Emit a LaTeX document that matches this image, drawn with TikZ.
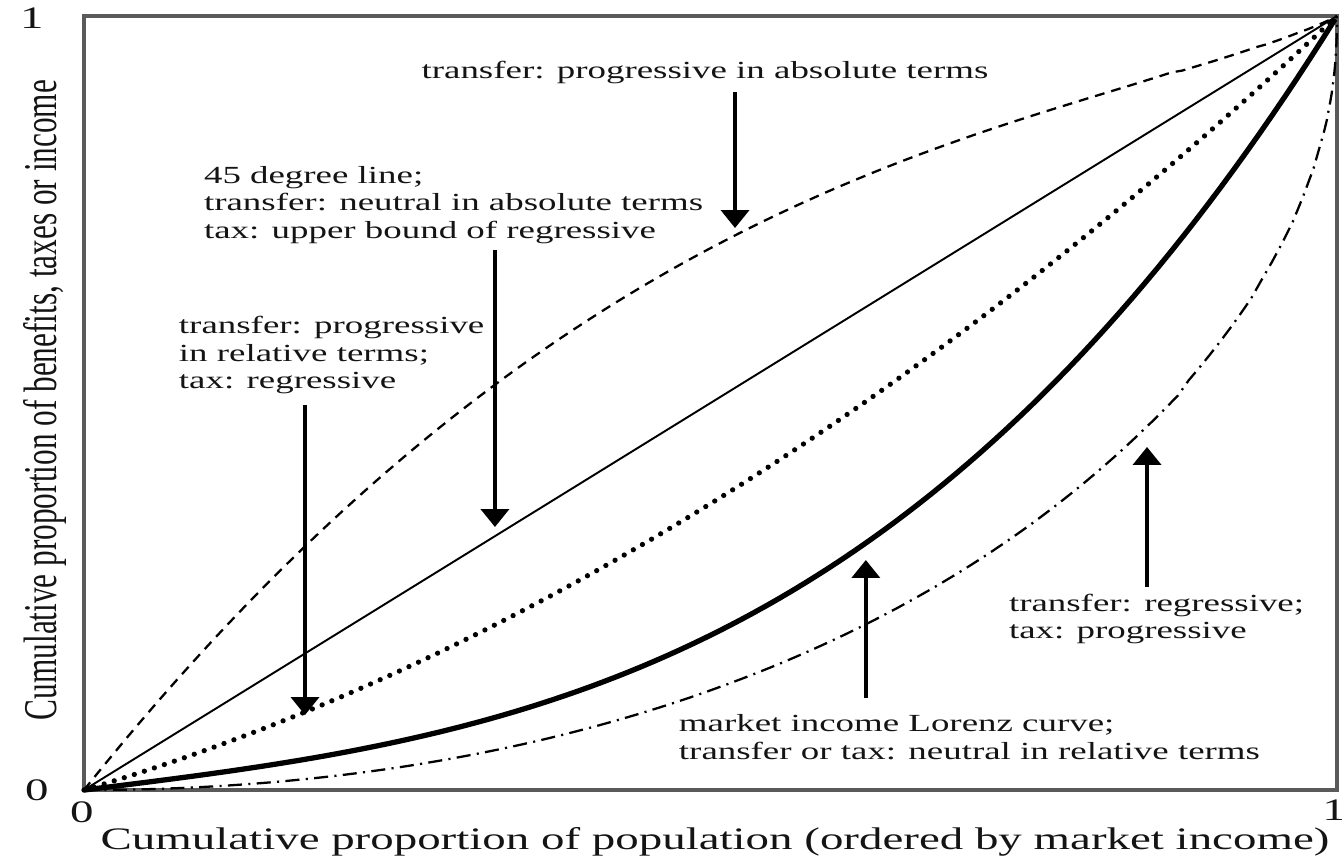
\documentclass[tikz,border=0pt]{standalone}
\usepackage{fontspec}
\setmainfont{Liberation Serif}
\usetikzlibrary{arrows.meta,positioning}
\definecolor{inkGray}{RGB}{20,20,20}
\definecolor{frameGray}{RGB}{90,90,90}
\tikzset{
  note/.style={font=\fontsize{7}{7.9}\selectfont, text=inkGray, align=left, inner sep=0pt, xscale=1.5},
  axislabel/.style={font=\fontsize{8.9}{10}\selectfont, text=inkGray, inner sep=0pt},
  pointer/.style={-{Triangle[length=1.8mm, width=2.8mm]}, line width=1.1pt},
  diag/.style={line width=0.55pt},
  lorenz/.style={line width=1.5pt},
  absprog/.style={line width=0.65pt, dash pattern=on 2.8pt off 2pt},
  relprog/.style={line width=1.5pt, line cap=round, dash pattern=on 0pt off 3pt},
  regr/.style={line width=0.65pt, dash pattern=on 4pt off 1.8pt on 0.6pt off 1.8pt}
}
\begin{document}
\begin{tikzpicture}[x=12.53cm, y=7.74cm]
\useasboundingbox (-0.067,-0.0891) rectangle (1.004,1.0207);
% frame
\draw[frameGray, line width=1.1pt] (0,0) rectangle (1,1);
% curves
\draw[diag] (0,0) -- (1,1);
\draw[absprog] plot[domain=0:0.995, samples=120] (\x,{\x+1.02*\x*(1-\x)^1.35}) -- (1,1);
\draw[relprog] plot[domain=0:1, samples=100] (\x,{0.48*\x+0.52*\x*\x});
\draw[lorenz] plot[domain=0:1, samples=100] (\x,{0.2*\x+0.8*\x*\x*\x});
\draw[regr] plot[domain=0:0.99, samples=120] (\x,{\x*(1-(1-\x)^0.43)})
  -- plot[domain=0.99:0.9999, samples=20] (\x,{\x*(1-(1-\x)^0.43)}) -- (1,1);
% tick labels and axis titles
\node[axislabel, xscale=1.5] (ytop) at (-0.0415,0.9974) {1};
\node[axislabel, xscale=1.5] (yzero) at (-0.0375,0) {0};
\node[axislabel, xscale=1.5] (xzero) at (-0.0016,-0.0284) {0};
\node[axislabel, xscale=1.5] (xone) at (0.9976,-0.0258) {1};
\node[axislabel, xscale=1.5] (xtitle) at (0.5036,-0.0672) {Cumulative proportion of population (ordered by market income)};
\node[axislabel, rotate=90, yscale=1.5] (ytitle) at (-0.0311,0.5039) {Cumulative proportion of benefits, taxes or income};
% notes
\node[note] (absnote) at (0.4956,0.9276) {transfer: progressive in absolute terms};
\node[note, anchor=west] (neutralnote) at (0.095,0.7558) {45 degree line;\\transfer: neutral in absolute terms\\tax: upper bound of regressive};
\node[note, anchor=west] (relnote) at (0.075,0.562) {transfer: progressive\\in relative terms;\\tax: regressive};
\node[note, anchor=west] (lorenznote) at (0.474,0.0685) {market income Lorenz curve;\\transfer or tax: neutral in relative terms};
\node[note, anchor=west] (regnote) at (0.7374,0.2209) {transfer: regressive;\\tax: progressive};
% arrows
\coordinate (absfrom) at (0.5196,0.9018);
\coordinate (absto) at (0.5196,0.7261);
\coordinate (neutralfrom) at (0.328,0.6977);
\coordinate (neutralto) at (0.328,0.3398);
\coordinate (relfrom) at (0.1764,0.4974);
\coordinate (relto) at (0.1764,0.0969);
\coordinate (lorenzfrom) at (0.624,0.1189);
\coordinate (lorenzto) at (0.624,0.2972);
\coordinate (regfrom) at (0.8484,0.2623);
\coordinate (regto) at (0.8484,0.4432);
\draw[pointer] (absfrom) -- (absto);
\draw[pointer] (neutralfrom) -- (neutralto);
\draw[pointer] (relfrom) -- (relto);
\draw[pointer] (lorenzfrom) -- (lorenzto);
\draw[pointer] (regfrom) -- (regto);
\end{tikzpicture}
\end{document}
